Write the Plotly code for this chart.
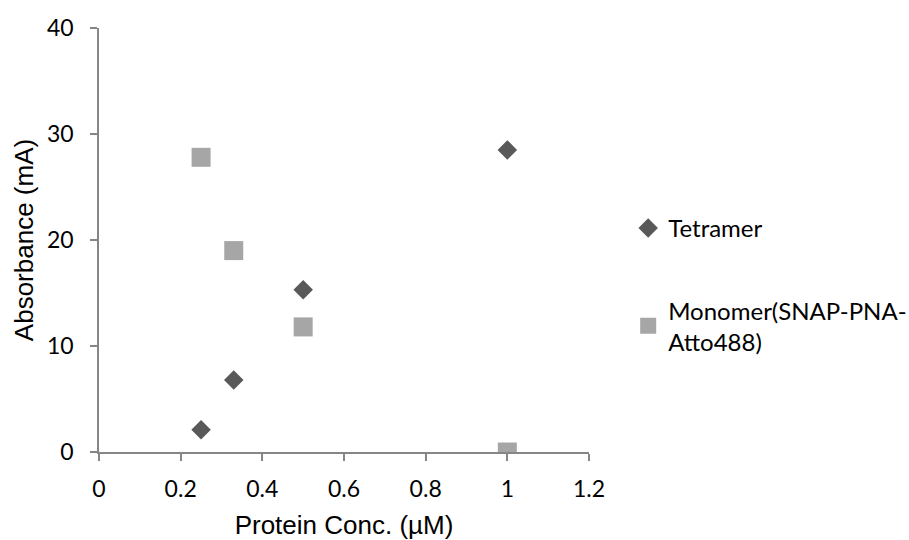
import plotly.graph_objects as go

# Protein concentration (µM) and absorbance (mA)
tetramer_conc = [0.25, 0.33, 0.5, 1.0]
tetramer_abs = [2.1, 6.8, 15.3, 28.5]

monomer_conc = [0.25, 0.33, 0.5, 1.0]
monomer_abs = [27.8, 19.0, 11.8, 0.0]

x_ticks = [0, 0.2, 0.4, 0.6, 0.8, 1.0, 1.2]
x_tick_labels = ["0", "0.2", "0.4", "0.6", "0.8", "1", "1.2"]
y_ticks = [0, 10, 20, 30, 40]

FONT = "Lato, 'Open Sans', sans-serif"
TITLE_FONT = "'Liberation Sans', Arial, sans-serif"
AXIS_GRAY = "#868686"

fig = go.Figure()
fig.add_trace(go.Scatter(
    x=tetramer_conc, y=tetramer_abs, mode="markers", name="Tetramer",
    legendgroup="a",
    marker=dict(symbol="diamond", size=15, color="#595959"),
))
fig.add_trace(go.Scatter(
    x=monomer_conc, y=monomer_abs, mode="markers",
    name="Monomer(SNAP-PNA-<br>Atto488)", legendgroup="b",
    marker=dict(symbol="square", size=19, color="#A6A6A6"),
))

axis_common = dict(
    showgrid=False, zeroline=False, showline=True, linecolor=AXIS_GRAY,
    linewidth=1.5, ticks="outside", ticklen=7, tickcolor=AXIS_GRAY,
    tickwidth=1.5, tickfont=dict(size=23, color="#000000", family=FONT),
    automargin=False,
)

fig.update_layout(
    width=909, height=540,
    margin=dict(l=99, r=320, t=28, b=88, autoexpand=False),
    paper_bgcolor="white", plot_bgcolor="white",
    font=dict(family=FONT, size=23, color="#000000"),
    xaxis=dict(range=[0, 1.2], tickvals=x_ticks, ticktext=x_tick_labels,
               ticklabelstandoff=9,
               title=dict(text="Protein Conc. (µM)", standoff=16,
                          font=dict(size=26, family=TITLE_FONT)),
               **axis_common),
    yaxis=dict(range=[0, 40], tickvals=y_ticks, ticklabelstandoff=12,
               title=dict(text="Absorbance (mA)", standoff=6,
                          font=dict(size=26, family=TITLE_FONT)),
               **axis_common),
    legend=dict(x=1.08, y=0.394, xanchor="left", yanchor="middle",
                traceorder="grouped", tracegroupgap=48,
                font=dict(size=24, family=FONT), itemwidth=30,
                bgcolor="rgba(0,0,0,0)"),
    showlegend=True,
)

fig.write_html("out.html")
